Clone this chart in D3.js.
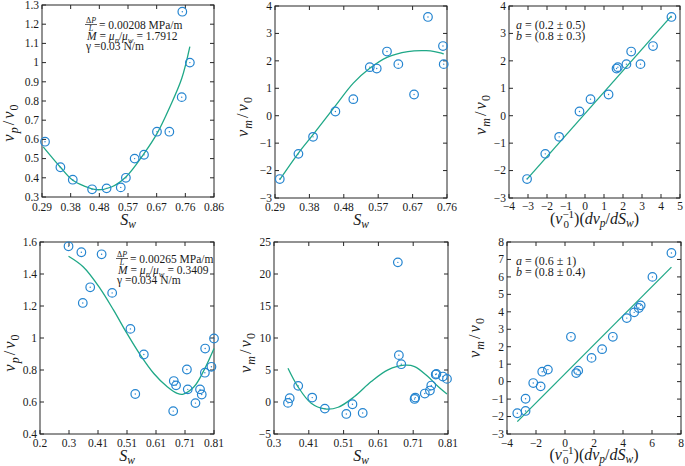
<!DOCTYPE html>
<html><head><meta charset="utf-8">
<script src="https://cdn.jsdelivr.net/npm/d3@7"></script>
<style>
body{margin:0;background:#fff}
svg{display:block}
</style>
</head><body>
<svg id="chart" width="685" height="466"></svg>
<script>
// ---------- DATA ----------
const swA  = [0.300,0.351,0.392,0.456,0.504,0.551,0.568,0.597,0.628,0.671,0.712,0.753,0.780,0.755];
const vpA  = [0.588,0.455,0.390,0.340,0.345,0.350,0.400,0.500,0.520,0.640,0.640,0.820,1.000,1.265];
const fitSwA = [0.294,0.351,0.392,0.430,0.471,0.520,0.568,0.628,0.671,0.714,0.753,0.780];
const fitVpA = [0.561,0.455,0.387,0.357,0.338,0.352,0.404,0.526,0.630,0.770,0.917,1.083];
const xTicksA = ["0.29","0.38","0.48","0.57","0.67","0.76","0.86"];
const yTicksA = ["0.3","0.4","0.5","0.6","0.7","0.8","0.9","1","1.1","1.2","1.3"];

const swB  = [0.303,0.354,0.394,0.455,0.504,0.549,0.568,0.596,0.627,0.670,0.708,0.749,0.751];
const vmB  = [-2.31,-1.39,-0.77,0.154,0.603,1.77,1.72,2.34,1.88,0.773,3.60,2.54,1.88];
const fitSwB = [0.303,0.354,0.394,0.455,0.504,0.549,0.596,0.653,0.703,0.726,0.751];
const fitVmB = [-2.33,-1.36,-0.69,0.36,1.19,1.73,2.13,2.34,2.37,2.34,2.25];
const xTicksB = ["0.29","0.38","0.48","0.57","0.67","0.76"];
const yTicksB = ["\u22123","\u22122","\u22121","0","1","2","3","4"];

const gradC = [-3.05,-2.09,-1.36,-0.29,0.29,1.24,1.66,1.73,2.18,2.43,2.92,3.58,4.55];
const vmC   = [-2.31,-1.39,-0.77,0.154,0.603,0.773,1.72,1.77,1.88,2.34,1.88,2.54,3.60];
const fitGradC = [-3.05,4.55];
const fitVmC   = [-2.31,3.64];
const xTicksC = ["\u22124","\u22123","\u22122","\u22121","0","1","2","3","4","5"];
const yTicksC = ["\u22123","\u22122","\u22121","0","1","2","3","4"];

const swD = [0.300,0.345,0.350,0.376,0.416,0.453,0.517,0.534,0.564,0.667,0.669,0.677,0.715,0.718,0.745,0.761,0.767,0.778,0.779,0.801,0.810];
const vpD = [1.573,1.536,1.219,1.317,1.523,1.282,1.057,0.650,0.897,0.543,0.731,0.704,0.803,0.679,0.593,0.679,0.647,0.783,0.934,0.820,0.997];
const fitSwD = [0.300,0.352,0.411,0.458,0.505,0.552,0.599,0.646,0.681,0.700,0.740,0.775,0.810];
const fitVpD = [1.511,1.444,1.309,1.174,1.028,0.893,0.778,0.695,0.654,0.648,0.695,0.799,0.934];
const xTicksD = ["0.2","0.3","0.41","0.51","0.61","0.71","0.81"];
const yTicksD = ["0.4","0.6","0.8","1","1.2","1.4","1.6"];

const swE = [0.341,0.346,0.371,0.412,0.449,0.512,0.530,0.560,0.663,0.666,0.673,0.712,0.714,0.742,0.757,0.761,0.774,0.776,0.795,0.807];
const vmE = [-0.14,0.59,2.52,0.69,-1.03,-1.87,-0.35,-1.71,21.82,7.32,5.91,0.48,0.69,1.32,1.79,2.57,4.29,4.39,3.98,3.61];
const fitSwE = [0.341,0.370,0.409,0.449,0.488,0.536,0.585,0.634,0.683,0.712,0.751,0.781,0.807];
const fitVmE = [5.28,2.41,-0.20,-1.08,-0.82,0.85,3.19,5.02,5.75,5.54,3.98,2.41,1.26];
const xTicksE = ["0.3","0.41","0.51","0.61","0.71","0.81"];
const yTicksE = ["\u22125","0","5","10","15","20","25"];

const gradF = [-3.29,-2.72,-2.72,-2.19,-1.68,-1.57,-1.18,0.41,0.77,0.91,1.83,2.56,3.30,4.26,4.77,5.09,5.22,6.03,7.34];
const vmF   = [-1.81,-0.98,-1.68,-0.08,-0.27,0.57,0.69,2.57,0.49,0.63,1.36,1.86,2.57,3.64,3.97,4.22,4.37,6.00,7.37];
const fitGradF = [-3.29,7.34];
const fitVmF   = [-2.29,6.56];
const xTicksF = ["\u22124","\u22122","0","2","4","6","8"];
const yTicksF = ["\u22123","\u22122","\u22121","0","1","2","3","4","5","6","7","8"];

const annotA = {dp:"0.00208", M:"1.7912", g:"0.03"};
const annotD = {dp:"0.00265", M:"0.3409", g:"0.034"};
const fitC = {a:"0.2 \u00b1 0.5", b:"0.8 \u00b1 0.3"};
const fitF = {a:"0.6 \u00b1 1",   b:"0.8 \u00b1 0.4"};

// ---------- LAYOUT ----------
const FONT = "Liberation Serif";
const MARK = "#2585d0", FIT = "#1fa887", AX = "#262626", TXT = "#1a1a1a";
const TFS = 11.5;
const svg = d3.select("#chart");

function txt(sel) {
  return sel.append("text").attr("font-family", FONT).attr("fill", TXT);
}

const panels = [
  {box:[42,214,5,197],   xs:swA, ys:vpA, fx:fitSwA, fy:fitVpA, xt:xTicksA, yt:yTicksA, xd:[0.29,0.86], yd:[0.3,1.3],
   ylab:"p", ylx:14, yly:123, xlab:"S", xlb:225, tickB:211, annot:"A"},
  {box:[275,447,6,198],  xs:swB, ys:vmB, fx:fitSwB, fy:fitVmB, xt:xTicksB, yt:yTicksB, xd:[0.29,0.76], yd:[-3,4],
   ylab:"m", ylx:248, yly:117, xlab:"S", xlb:225, tickB:211},
  {box:[509,680,6,198],  xs:gradC, ys:vmC, fx:fitGradC, fy:fitVmC, xt:xTicksC, yt:yTicksC, xd:[-4,5], yd:[-3,4],
   ylab:"m", ylx:486, yly:115, xlab:"G", xlb:224, tickB:210, fit:fitC},
  {box:[40,214,242,434], xs:swD, ys:vpD, fx:fitSwD, fy:fitVpD, xt:xTicksD, yt:yTicksD, xd:[0.2,0.81], yd:[0.4,1.6],
   ylab:"p", ylx:15, yly:353, xlab:"S", xlb:461, tickB:447, annot:"D"},
  {box:[274,448,242,434],xs:swE, ys:vmE, fx:fitSwE, fy:fitVmE, xt:xTicksE, yt:yTicksE, xd:[0.3,0.81], yd:[-5,25],
   ylab:"m", ylx:251, yly:353, xlab:"S", xlb:461, tickB:447},
  {box:[507,681,242,434],xs:gradF, ys:vmF, fx:fitGradF, fy:fitVmF, xt:xTicksF, yt:yTicksF, xd:[-4,8], yd:[-3,8],
   ylab:"m", ylx:480, yly:338, xlab:"G", xlb:460, tickB:447, fit:fitF}
];

function addSpan(t, str, o={}) {
  const s = t.append("tspan").text(str);
  if (o.it) s.attr("font-style","italic");
  if (o.fs) s.attr("font-size",o.fs);
  if (o.dx!=null) s.attr("dx",o.dx);
  if (o.dy!=null) s.attr("dy",o.dy);
  return s;
}

panels.forEach(p => {
  const [x0,x1,y0,y1] = p.box;
  const x = d3.scaleLinear().domain(p.xd).range([x0,x1]);
  const y = d3.scaleLinear().domain(p.yd).range([y1,y0]);
  const g = svg.append("g");

  const nx = p.xt.length, ny = p.yt.length;
  const xv = p.xt.map((_,i)=> p.xd[0] + i*(p.xd[1]-p.xd[0])/(nx-1));
  const yv = p.yt.map((_,i)=> p.yd[0] + i*(p.yd[1]-p.yd[0])/(ny-1));
  const TL = 4;
  xv.forEach((v,i) => {
    const px = x(v);
    g.append("line").attr("x1",px).attr("x2",px).attr("y1",y1).attr("y2",y1-TL).attr("stroke",AX);
    g.append("line").attr("x1",px).attr("x2",px).attr("y1",y0).attr("y2",y0+TL).attr("stroke",AX);
    txt(g).attr("x",px).attr("y",p.tickB).attr("text-anchor","middle")
      .attr("font-size",TFS).text(p.xt[i]);
  });
  yv.forEach((v,i) => {
    const py = y(v);
    g.append("line").attr("x1",x0).attr("x2",x0+TL).attr("y1",py).attr("y2",py).attr("stroke",AX);
    g.append("line").attr("x1",x1).attr("x2",x1-TL).attr("y1",py).attr("y2",py).attr("stroke",AX);
    txt(g).attr("x",x0-3).attr("y",py).attr("dy","0.33em").attr("text-anchor","end")
      .attr("font-size",TFS).text(p.yt[i]);
  });
  g.append("rect").attr("x",x0).attr("y",y0).attr("width",x1-x0).attr("height",y1-y0)
    .attr("fill","none").attr("stroke",AX).attr("stroke-width",1);

  const fitPts = p.fx.map((v,i)=>[v,p.fy[i]]);
  g.append("path").datum(fitPts)
    .attr("d", d3.line().x(d=>x(d[0])).y(d=>y(d[1])).curve(d3.curveCatmullRom.alpha(0.5)))
    .attr("fill","none").attr("stroke",FIT).attr("stroke-width",1.3);

  const pts = p.xs.map((v,i)=>[v,p.ys[i]]);
  g.selectAll("circle.m").data(pts).join("circle").attr("class","m")
    .attr("cx",d=>x(d[0])).attr("cy",d=>y(d[1])).attr("r",4.3)
    .attr("fill","none").attr("stroke",MARK).attr("stroke-width",1.2);
  g.selectAll("circle.d").data(pts).join("circle").attr("class","d")
    .attr("cx",d=>x(d[0])).attr("cy",d=>y(d[1])).attr("r",0.7).attr("fill",MARK);

  const yl = txt(g).attr("transform",`translate(${p.ylx},${p.yly}) rotate(-90)`)
    .attr("text-anchor","middle").attr("font-size",16.5);
  addSpan(yl,"v",{it:true});
  addSpan(yl,p.ylab,{it:true,fs:12,dy:4,dx:1});
  addSpan(yl,"/",{dy:-4,dx:2});
  addSpan(yl,"v",{it:true,dx:2});
  addSpan(yl,"0",{fs:12,dy:4,dx:1});

  const cx = (x0+x1)/2;
  const xl = txt(g).attr("x",cx).attr("y",p.xlb).attr("text-anchor","middle").attr("font-size",16);
  if (p.xlab === "S") {
    addSpan(xl,"S",{it:true});
    addSpan(xl,"w",{it:true,fs:11.5,dy:3});
  } else {
    addSpan(xl,"(");
    addSpan(xl,"v",{it:true});
    addSpan(xl,"\u22121",{fs:11,dy:-6});
    addSpan(xl,"0",{fs:11,dy:10,dx:-10.5});
    addSpan(xl,")(",{dy:-4,dx:5});
    addSpan(xl,"dv",{it:true});
    addSpan(xl,"p",{it:true,fs:11.5,dy:3});
    addSpan(xl,"/",{dy:-3});
    addSpan(xl,"dS",{it:true});
    addSpan(xl,"w",{it:true,fs:11.5,dy:3});
    addSpan(xl,")",{dy:-3});
  }

  if (p.annot) {
    const A = p.annot === "A" ? annotA : annotD;
    const ax = p.annot === "A" ? 85 : 116;
    const b1 = p.annot === "A" ? 29 : 263;
    const fs = 11.5;
    txt(g).attr("x",ax+6).attr("y",b1-6).attr("text-anchor","middle").attr("font-size",8)
      .call(t=>{addSpan(t,"\u0394");addSpan(t,"P",{it:true});});
    g.append("line").attr("x1",ax).attr("x2",ax+12).attr("y1",b1-4.5).attr("y2",b1-4.5).attr("stroke",TXT).attr("stroke-width",0.7);
    txt(g).attr("x",ax+6).attr("y",b1+2).attr("text-anchor","middle").attr("font-size",8)
      .call(t=>addSpan(t,"L",{it:true}));
    txt(g).attr("x",ax+14).attr("y",b1).attr("font-size",fs).text("= " + A.dp + " MPa/m");
    const t2 = txt(g).attr("x",ax+2).attr("y",b1+11).attr("font-size",fs);
    addSpan(t2,"M",{it:true});
    addSpan(t2," = ");
    addSpan(t2,"\u03bc",{it:true});
    addSpan(t2,"n",{it:true,fs:8.5,dy:2.5});
    addSpan(t2,"/",{dy:-2.5});
    addSpan(t2,"\u03bc",{it:true});
    addSpan(t2,"w",{it:true,fs:8.5,dy:2.5});
    addSpan(t2," = " + A.M,{dy:-2.5});
    txt(g).attr("x",ax+1).attr("y",b1+21).attr("font-size",fs).text("\u03b3 =" + A.g + " N/m");
  }
  if (p.fit) {
    const bx = 516, b1 = y0 + 23;
    const ta = txt(g).attr("x",bx).attr("y",b1).attr("font-size",12);
    addSpan(ta,"a",{it:true}); addSpan(ta," = (" + p.fit.a + ")");
    const tb = txt(g).attr("x",bx).attr("y",b1+11).attr("font-size",12);
    addSpan(tb,"b",{it:true}); addSpan(tb," = (" + p.fit.b + ")");
  }
});
</script>
</body></html>
